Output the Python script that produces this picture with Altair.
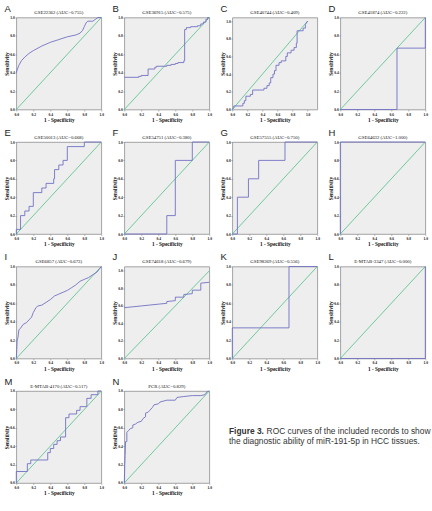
import altair as alt
import pandas as pd

SERIF = "Liberation Serif"
SANS = "Liberation Sans"
BLUE = "#7272c4"
GREEN = "#4fbf86"

letters = ["A", "B", "C", "D", "E", "F", "G", "H", "I", "J", "K", "L", "M", "N"]
titles = [
    "GSE22362 (AUC=0.755)", "GSE36915 (AUC=0.575)", "GSE40744 (AUC=0.409)", "GSE41874 (AUC=0.222)",
    "GSE50013 (AUC=0.668)", "GSE54751 (AUC=0.380)", "GSE57555 (AUC=0.750)", "GSE64632 (AUC=1.000)",
    "GSE6857 (AUC=0.673)", "GSE74618 (AUC=0.679)", "GSE98269 (AUC=0.556)", "E-MTAB-3347 (AUC=0.000)",
    "E-MTAB-4170 (AUC=0.517)", "PCR (AUC=0.829)",
]
tick_values = [0.0, 0.2, 0.4, 0.6, 0.8, 1.0]

A_fpr = [0, 0.01, 0.03, 0.06, 0.10, 0.15, 0.20, 0.30, 0.40, 0.50, 0.60, 0.70, 0.75, 0.78, 0.80, 0.82, 0.84, 0.90, 0.93, 0.96, 1.0]
A_tpr = [0.40, 0.43, 0.48, 0.53, 0.57, 0.61, 0.64, 0.69, 0.73, 0.76, 0.79, 0.81, 0.83, 0.86, 0.90, 0.94, 0.96, 0.96, 0.98, 1.0, 1.0]

B_fpr = [0, 0.17, 0.17, 0.20, 0.20, 0.28, 0.28, 0.36, 0.36, 0.38, 0.38, 0.50, 0.50, 0.55, 0.55, 0.60, 0.60, 0.63, 0.63, 0.70, 0.70, 0.71, 0.71, 0.73, 0.73, 0.78, 0.78, 0.86, 0.86, 0.90, 0.90, 0.93, 0.93, 0.96, 0.96, 0.98, 0.98, 1.0]
B_tpr = [0.35, 0.35, 0.36, 0.36, 0.37, 0.37, 0.44, 0.44, 0.46, 0.46, 0.47, 0.47, 0.48, 0.48, 0.49, 0.49, 0.50, 0.50, 0.51, 0.51, 0.53, 0.53, 0.87, 0.87, 0.89, 0.89, 0.90, 0.90, 0.91, 0.91, 0.93, 0.93, 0.95, 0.95, 0.98, 0.98, 1.0, 1.0]

C_fpr = [0, 0.02, 0.02, 0.14, 0.14, 0.16, 0.16, 0.18, 0.18, 0.24, 0.24, 0.27, 0.27, 0.42, 0.42, 0.46, 0.46, 0.49, 0.49, 0.51, 0.51, 0.54, 0.54, 0.56, 0.56, 0.58, 0.58, 0.62, 0.62, 0.65, 0.65, 0.71, 0.71, 0.73, 0.73, 0.78, 0.78, 0.82, 0.82, 0.85, 0.85, 0.86, 0.86, 0.94, 0.94, 0.97, 0.97, 1.0]
C_tpr = [0, 0.02, 0.04, 0.04, 0.07, 0.07, 0.10, 0.10, 0.15, 0.15, 0.17, 0.17, 0.22, 0.22, 0.24, 0.24, 0.27, 0.27, 0.30, 0.30, 0.36, 0.36, 0.40, 0.40, 0.44, 0.44, 0.50, 0.50, 0.53, 0.53, 0.55, 0.55, 0.60, 0.60, 0.64, 0.64, 0.67, 0.67, 0.70, 0.70, 0.75, 0.75, 0.89, 0.89, 0.92, 0.92, 0.96, 1.0]

D_fpr = [0, 0.667, 0.667, 1.0, 1.0]
D_tpr = [0, 0, 0.667, 0.667, 1.0]

E_fpr = [0, 0, 0.05, 0.05, 0.10, 0.10, 0.15, 0.15, 0.20, 0.20, 0.30, 0.30, 0.35, 0.35, 0.44, 0.44, 0.45, 0.45, 0.50, 0.50, 0.55, 0.55, 0.60, 0.60, 0.80, 0.80, 1.0]
E_tpr = [0, 0.05, 0.05, 0.20, 0.20, 0.25, 0.25, 0.30, 0.30, 0.45, 0.45, 0.50, 0.50, 0.55, 0.55, 0.60, 0.60, 0.70, 0.70, 0.75, 0.75, 0.80, 0.80, 0.95, 0.95, 1.0, 1.0]

F_fpr = [0, 0.5, 0.5, 0.6, 0.6, 0.8, 0.8, 1.0]
F_tpr = [0, 0, 0.2, 0.2, 0.8, 0.8, 1.0, 1.0]

G_fpr = [0, 0.06, 0.06, 0.19, 0.19, 0.31, 0.31, 0.62, 0.62, 1.0]
G_tpr = [0, 0, 0.4, 0.4, 0.6, 0.6, 0.8, 0.8, 1.0, 1.0]

H_fpr = [0, 0, 1.0]
H_tpr = [0, 1.0, 1.0]

I_fpr = [0, 0.005, 0.01, 0.02, 0.03, 0.05, 0.08, 0.12, 0.15, 0.18, 0.20, 0.23, 0.25, 0.30, 0.35, 0.40, 0.45, 0.50, 0.55, 0.60, 0.65, 0.70, 0.75, 0.80, 0.85, 0.90, 0.95, 1.0]
I_tpr = [0, 0.10, 0.20, 0.23, 0.31, 0.33, 0.37, 0.39, 0.42, 0.45, 0.50, 0.55, 0.57, 0.58, 0.61, 0.64, 0.68, 0.70, 0.72, 0.74, 0.77, 0.80, 0.84, 0.86, 0.88, 0.91, 0.94, 1.0]

J_fpr = [0, 0.1, 0.2, 0.3, 0.4, 0.5, 0.5, 0.6, 0.6, 0.7, 0.7, 0.8, 0.8, 0.9, 0.9, 1.0]
J_tpr = [0.58, 0.59, 0.60, 0.61, 0.62, 0.63, 0.65, 0.66, 0.70, 0.70, 0.73, 0.74, 0.78, 0.78, 0.86, 0.87]

K_fpr = [0, 0, 0.667, 0.667, 1.0]
K_tpr = [0, 0.333, 0.333, 1.0, 1.0]

L_fpr = [0, 1.0, 1.0]
L_tpr = [0, 0, 1.0]

M_fpr = [0, 0, 0.13, 0.13, 0.17, 0.17, 0.37, 0.37, 0.40, 0.40, 0.44, 0.44, 0.48, 0.48, 0.52, 0.52, 0.58, 0.58, 0.62, 0.62, 0.71, 0.71, 0.75, 0.75, 0.83, 0.83, 0.88, 0.88, 0.96, 0.96, 1.0]
M_tpr = [0, 0.125, 0.125, 0.21, 0.21, 0.25, 0.25, 0.33, 0.33, 0.375, 0.375, 0.42, 0.42, 0.46, 0.46, 0.50, 0.50, 0.71, 0.71, 0.75, 0.75, 0.79, 0.79, 0.83, 0.83, 0.92, 0.92, 0.96, 0.96, 1.0, 1.0]

N_fpr = [0, 0.005, 0.01, 0.015, 0.03, 0.03, 0.05, 0.07, 0.10, 0.10, 0.13, 0.16, 0.20, 0.22, 0.25, 0.25, 0.28, 0.30, 0.33, 0.35, 0.40, 0.42, 0.50, 0.60, 0.62, 0.70, 0.80, 0.90, 0.95, 0.97, 1.0]
N_tpr = [0, 0.20, 0.30, 0.45, 0.45, 0.55, 0.57, 0.59, 0.60, 0.63, 0.64, 0.66, 0.67, 0.70, 0.72, 0.76, 0.77, 0.79, 0.82, 0.85, 0.86, 0.88, 0.90, 0.90, 0.93, 0.94, 0.95, 0.95, 0.96, 0.99, 1.0]

FPR = [A_fpr, B_fpr, C_fpr, D_fpr, E_fpr, F_fpr, G_fpr, H_fpr, I_fpr, J_fpr, K_fpr, L_fpr, M_fpr, N_fpr]
TPR = [A_tpr, B_tpr, C_tpr, D_tpr, E_tpr, F_tpr, G_tpr, H_tpr, I_tpr, J_tpr, K_tpr, L_tpr, M_tpr, N_tpr]
x_max = [1.0, 1.0, 1.128, 1.0, 1.0, 1.0, 1.0, 1.0, 1.0, 1.0, 1.0, 1.0, 1.0, 1.0]
y_max = [1.0, 1.0, 1.04, 1.0, 1.0, 1.0, 1.0, 1.0, 1.0, 1.05, 1.0, 1.0, 1.0, 1.0]

diag_fpr = [0.0, 1.0]
diag_tpr = [0.0, 1.0]

caption_bold = "Figure 3."
caption_line1 = "ROC curves of the included records to show"
caption_line2 = "the diagnostic ability of miR-191-5p in HCC tissues."

W, H = 85, 92


def panel(k):
    df = pd.DataFrame({"fpr": FPR[k], "tpr": TPR[k]})
    df["i"] = range(len(df))
    xs = alt.Scale(domain=[0, x_max[k]], nice=False, zero=False)
    ys = alt.Scale(domain=[0, y_max[k]], nice=False, zero=False)
    xax = alt.Axis(values=tick_values, format=".1f", title="1 - Specificity")
    yax = alt.Axis(values=tick_values, format=".1f", title="Sensitivity")
    ddf = pd.DataFrame({"fpr": diag_fpr, "tpr": diag_tpr})
    diag = alt.Chart(ddf).mark_line(color=GREEN, strokeWidth=0.8).encode(
        x=alt.X("fpr:Q", scale=xs, axis=xax),
        y=alt.Y("tpr:Q", scale=ys, axis=yax),
    )
    curve = alt.Chart(df).mark_line(color=BLUE, strokeWidth=0.9).encode(
        x=alt.X("fpr:Q", scale=xs, axis=xax),
        y=alt.Y("tpr:Q", scale=ys, axis=yax),
        order="i:Q",
    )
    lab = alt.Chart(pd.DataFrame({"t": [letters[k]]})).mark_text(
        align="left", baseline="alphabetic", font=SANS, fontSize=9.5, color="#222"
    ).encode(x=alt.value(-11.7), y=alt.value(-6), text="t:N")
    ttl = alt.Chart(pd.DataFrame({"t": [titles[k]]})).mark_text(
        align="center", baseline="alphabetic", font=SERIF, fontSize=4.8, color="#111"
    ).encode(x=alt.value(W / 2), y=alt.value(-3.3), text="t:N")
    return alt.layer(diag, curve, lab, ttl).properties(width=W, height=H)


panels = [panel(k) for k in range(len(letters))]

cap_df = pd.DataFrame({"t": [caption_bold]})
cap_bold = alt.Chart(cap_df).mark_text(
    align="left", baseline="middle", font=SANS, fontSize=8.4, fontWeight="bold", color="#333"
).encode(x=alt.value(-3.3), y=alt.value(40.5), text="t:N")
cap_l1 = alt.Chart(pd.DataFrame({"t": [caption_line1]})).mark_text(
    align="left", baseline="middle", font=SANS, fontSize=8.4, color="#333"
).encode(x=alt.value(34.3), y=alt.value(40.5), text="t:N")
cap_l2 = alt.Chart(pd.DataFrame({"t": [caption_line2]})).mark_text(
    align="left", baseline="middle", font=SANS, fontSize=8.4, color="#333"
).encode(x=alt.value(-3.3), y=alt.value(50.5), text="t:N")
caption = alt.layer(cap_bold, cap_l1, cap_l2).properties(
    width=W, height=H, view=alt.ViewBackground(fillOpacity=0, strokeOpacity=0)
)

chart = alt.concat(
    *panels, caption, columns=4, spacing={"row": 32.5, "column": 23}, bounds="flush"
).properties(
    padding={"left": 3.3, "top": 2.5, "right": 0, "bottom": 0}
).configure_view(
    fill="#eeeeee", stroke="#8e8e8e", strokeWidth=0.8
).configure_axis(
    labelFont=SERIF, labelFontSize=3.6, labelFontWeight="bold", labelColor="#111",
    titleFont=SERIF, titleFontSize=5.3, titleFontWeight="bold", titleColor="#111",
    domain=False, grid=False, tickSize=1.5, tickColor="#777", tickWidth=0.5,
    labelPadding=1, titlePadding=1.5, labelFlush=False, labelOverlap=False,
).configure_axisY(
    labelPadding=0.5, titlePadding=0.5
)

chart.save("out.html", embed_options={"renderer": "svg", "actions": False})
